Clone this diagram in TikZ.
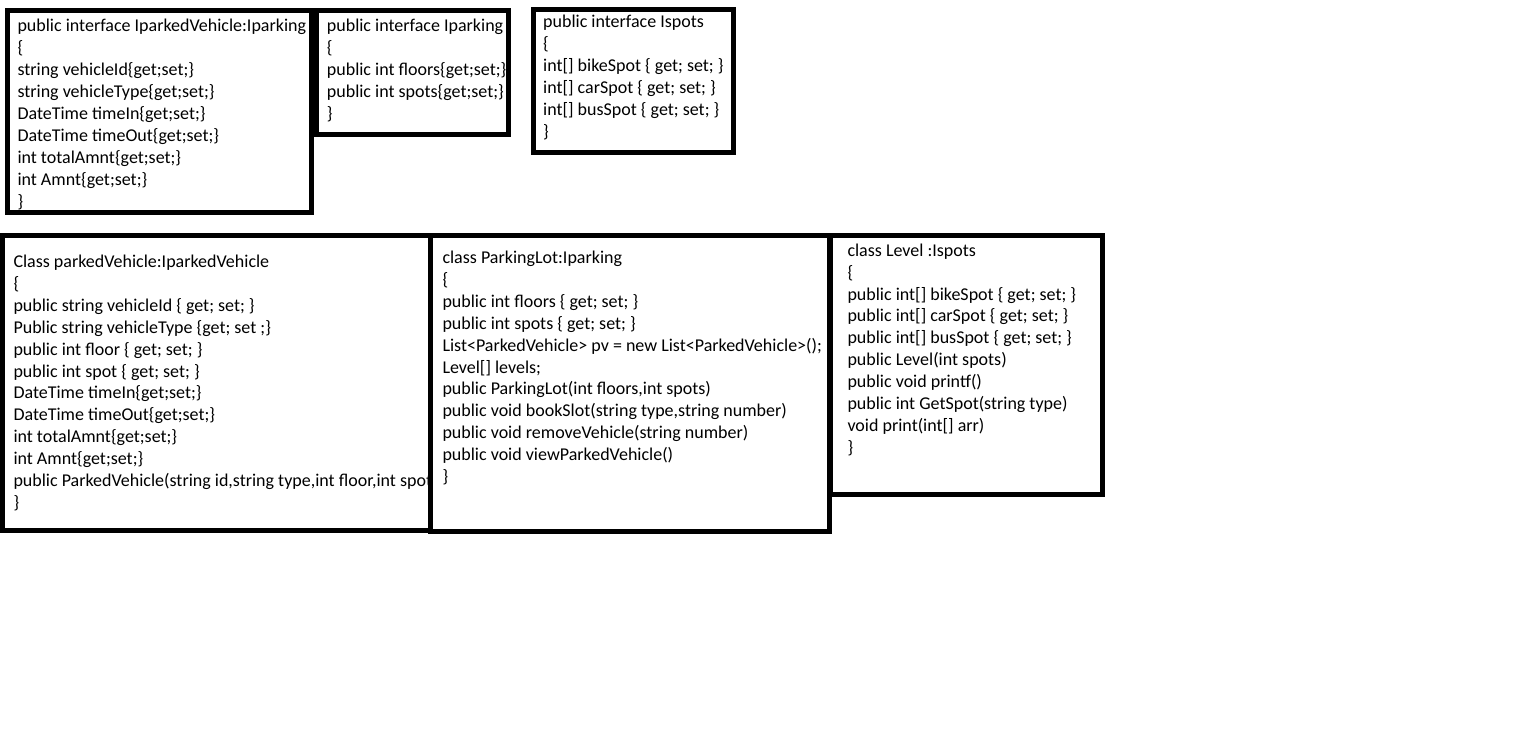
\documentclass[tikz,border=0pt]{standalone}
\usepackage{fontspec}
\setmainfont{Carlito}
\usepackage{tikz}

\tikzset{
  umlbox/.style={draw=black, line width=5pt, fill=white},
  codetext/.style={anchor=north west, align=left, inner sep=0pt,
    font=\fontsize{18}{21.9}\selectfont}
}

\begin{document}
\begin{tikzpicture}[x=1pt,y=-1pt]

  \fill[white] (0,0) rectangle (1521,751);
  \useasboundingbox (0,0) rectangle (1521,751);

  % interfaces
  \draw[umlbox] (7.5,10.5) rectangle (311,212.5);
  \node[codetext] (ivehicle) at (17.3,16.4) {\strut public interface IparkedVehicle:Iparking\\
    \{\\
    string vehicleId\{get;set;\}\\
    string vehicleType\{get;set;\}\\
    DateTime timeIn\{get;set;\}\\
    DateTime timeOut\{get;set;\}\\
    int totalAmnt\{get;set;\}\\
    int Amnt\{get;set;\}\\
    \}};

  \draw[umlbox] (316,11) rectangle (508,134.5);
  \node[codetext] (iparking) at (326.7,16.4) {\strut public interface Iparking\\
    \{\\
    public int floors\{get;set;\}\\
    public int spots\{get;set;\}\\
    \}};

  \draw[umlbox] (533.5,9.5) rectangle (733.5,152.5);
  \node[codetext] (ispots) at (543,12.4) {\strut public interface Ispots\\
    \{\\
    int[] bikeSpot \{ get; set; \}\\
    int[] carSpot \{ get; set; \}\\
    int[] busSpot \{ get; set; \}\\
    \}};

  % classes
  \draw[umlbox] (2,235.5) rectangle (430,530.5);
  \node[codetext] (vehicle) at (13.3,252) {\strut Class parkedVehicle:IparkedVehicle\\
    \{\\
    public string vehicleId \{ get; set; \}\\
    Public string vehicleType \{get; set ;\}\\
    public int floor \{ get; set; \}\\
    public int spot \{ get; set; \}\\
    DateTime timeIn\{get;set;\}\\
    DateTime timeOut\{get;set;\}\\
    int totalAmnt\{get;set;\}\\
    int Amnt\{get;set;\}\\
    public ParkedVehicle(string id,string type,int floor,int spot\\
    \}};

  \draw[umlbox] (430,235.5) rectangle (829.5,531.5);
  \node[codetext] (lot) at (442.3,248) {\strut class ParkingLot:Iparking\\
    \{\\
    public int floors \{ get; set; \}\\
    public int spots \{ get; set; \}\\
    List<ParkedVehicle> pv = new List<ParkedVehicle>();\\
    Level[] levels;\\
    public ParkingLot(int floors,int spots)\\
    public void bookSlot(string type,string number)\\
    public void removeVehicle(string number)\\
    public void viewParkedVehicle()\\
    \}};

  \draw[umlbox] (830,235.5) rectangle (1102.5,494.5);
  \node[codetext] (level) at (847.3,240.7) {\strut class Level :Ispots\\
    \{\\
    public int[] bikeSpot \{ get; set; \}\\
    public int[] carSpot \{ get; set; \}\\
    public int[] busSpot \{ get; set; \}\\
    public Level(int spots)\\
    public void printf()\\
    public int GetSpot(string type)\\
    void print(int[] arr)\\
    \}};

\end{tikzpicture}
\end{document}
